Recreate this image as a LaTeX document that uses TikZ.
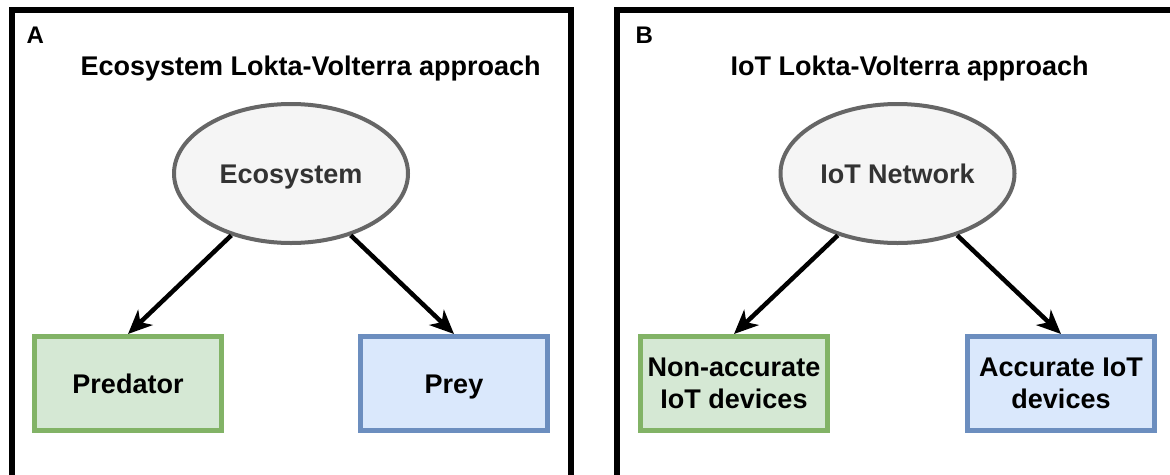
\documentclass[tikz,border=0pt]{standalone}
\usepackage{fontspec}
\setmainfont{Liberation Sans}
\usetikzlibrary{positioning, arrows.meta, shapes.geometric}

\definecolor{ellfill}{HTML}{F5F5F5}
\definecolor{ellline}{HTML}{666666}
\definecolor{elltext}{HTML}{333333}
\definecolor{grnfill}{HTML}{D5E8D4}
\definecolor{grnline}{HTML}{82B366}
\definecolor{blufill}{HTML}{DAE8FC}
\definecolor{bluline}{HTML}{6C8EBF}

\tikzset{
  panel/.style={line width=6pt},
  oneline/.style={text height=19.5pt, text depth=0pt},
  oval/.style={ellipse, draw=ellline, fill=ellfill, text=elltext, line width=4pt,
    minimum width=234pt, minimum height=139pt, inner sep=0pt, oneline},
  agent/.style={rectangle, line width=5pt, minimum width=187pt, minimum height=94pt,
    inner sep=0pt, align=center},
  predbox/.style={agent, draw=grnline, fill=grnfill},
  preybox/.style={agent, draw=bluline, fill=blufill},
  link/.style={-{Stealth[length=24pt, width=21pt, inset=7pt]}, line width=4.5pt}
}

\begin{document}
\begin{tikzpicture}[x=1pt, y=-1pt,
    every node/.style={font=\bfseries\fontsize{27}{32}\selectfont}]
		\useasboundingbox (0,0) rectangle (1170,474);
		\clip (0,0) rectangle (1170,474);
		\fill[white] (0,0) rectangle (1170,474);
		\draw[panel] (12,10) rectangle (571,495);
		\draw[panel] (617,10) rectangle (1195,495);

		\node[anchor=base west, font=\bfseries\fontsize{24}{28}\selectfont] (la) at (23,43) {A};
		\node[anchor=base west] (ta) at (77,75) {Ecosystem Lokta-Volterra approach};
		\node[oval] (eco) at (291,173.5) {Ecosystem};
		\node[predbox, oneline, below=89pt of eco, xshift=-163pt] (pred) {Predator};
		\node[preybox, oneline, below=89pt of eco, xshift=163pt] (prey) {Prey};

		\node[anchor=base west, font=\bfseries\fontsize{24}{28}\selectfont] (lb) at (632,43) {B};
		\node[anchor=base west] (tb) at (727,75) {IoT Lokta-Volterra approach};
		\node[oval] (iot) at (897.5,173.5) {IoT Network};
		\node[predbox, below=89pt of iot, xshift=-163.5pt] (nacc) {Non-accurate\\IoT devices};
		\node[preybox, below=89pt of iot, xshift=163.5pt] (acc) {Accurate IoT\\devices};

		\draw[link] (eco.226) -- (pred.north);
		\draw[link] (eco.314) -- (prey.north);
		\draw[link] (iot.226) -- (nacc.north);
		\draw[link] (iot.314) -- (acc.north);
	\end{tikzpicture}
\end{document}
